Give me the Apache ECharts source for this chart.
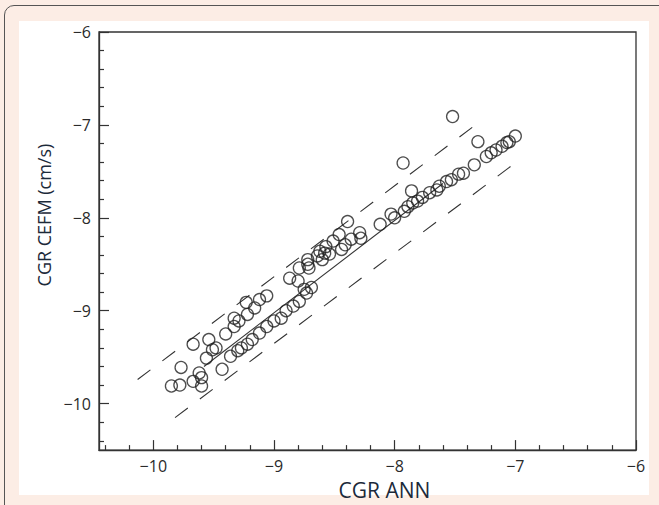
<!DOCTYPE html>
<html>
<head>
<meta charset="utf-8"/>
<title>CGR CEFM vs CGR ANN</title>
<style>
    html, body { margin: 0; padding: 0; width: 659px; height: 505px; overflow: hidden; background: #fcede5; }
    #frame { position: absolute; left: 4px; top: 5px; width: 700px; height: 560px; border: 1.5px solid #555; border-radius: 10px; background: #fcede5; }
    #panel { position: absolute; left: 19px; top: 21px; width: 630px; height: 474px; background: #fff; }
    #chart { position: absolute; left: 0; top: 0; width: 659px; height: 505px; }
</style>
</head>
<body>
<div id="frame"></div>
<div id="panel"></div>
<div id="chart"></div>

<script src="https://cdn.jsdelivr.net/npm/echarts@6/dist/echarts.min.js"></script>
<script>
    // CGR ANN (x) / CGR CEFM (y), log10 cm/s
    var annX = [
        -9.85, -9.78, -9.77, -9.67, -9.67, -9.62, -9.60, -9.60, -9.56, -9.54,
        -9.51, -9.48, -9.43, -9.40, -9.36, -9.30, -9.27, -9.22, -9.18, -9.12,
        -9.06, -9.00, -8.94, -8.90, -8.84, -8.79, -8.73, -8.69, -9.33, -9.33,
        -9.29, -9.23, -9.22, -9.16, -9.12, -9.06, -8.87, -8.80, -8.75, -8.79,
        -8.72, -8.64, -8.58, -8.72, -8.71, -8.62, -8.60, -8.57, -8.54, -8.51,
        -8.46, -8.44, -8.41, -8.36, -8.29, -8.28, -8.39, -8.12, -8.03, -8.00,
        -7.92, -7.89, -7.85, -7.81, -7.77, -7.71, -7.65, -7.63, -7.57, -7.53,
        -7.47, -7.43, -7.34, -7.24, -7.20, -7.16, -7.11, -7.07, -7.05, -7.00,
        -7.93, -7.86, -7.52, -7.31
    ];
    var cefmY = [
        -9.81, -9.80, -9.61, -9.36, -9.76, -9.67, -9.72, -9.81, -9.51, -9.31,
        -9.42, -9.40, -9.63, -9.25, -9.49, -9.43, -9.40, -9.36, -9.31, -9.24,
        -9.17, -9.11, -9.08, -9.00, -8.95, -8.90, -8.81, -8.75, -9.08, -9.17,
        -9.11, -8.91, -9.04, -8.97, -8.88, -8.84, -8.65, -8.68, -8.77, -8.54,
        -8.50, -8.41, -8.38, -8.45, -8.54, -8.36, -8.45, -8.31, -8.39, -8.25,
        -8.18, -8.34, -8.29, -8.23, -8.16, -8.22, -8.04, -8.07, -7.96, -8.00,
        -7.93, -7.88, -7.84, -7.82, -7.78, -7.73, -7.70, -7.66, -7.61, -7.59,
        -7.53, -7.52, -7.43, -7.34, -7.30, -7.27, -7.23, -7.19, -7.18, -7.12,
        -7.41, -7.71, -6.91, -7.18
    ];

    // reference lines (end points)
    var fitLine = [[-9.58, -9.60], [-7.60, -7.63]];
    var upperBand = [[-10.13, -9.74], [-7.30, -6.97]];
    var lowerBand = [[-9.82, -10.15], [-6.98, -7.39]];

    // ticks
    var xMajor = [-10, -9, -8, -7, -6];
    var yMajor = [-10, -9, -8, -7, -6];
    var xMinor = [-10.4, -10.2, -9.8, -9.6, -9.4, -9.2, -8.8, -8.6, -8.4, -8.2,
                  -7.8, -7.6, -7.4, -7.2, -6.8, -6.6, -6.4, -6.2];
    var yMinor = [-10.4, -10.2, -9.8, -9.6, -9.4, -9.2, -8.8, -8.6, -8.4, -8.2,
                  -7.8, -7.6, -7.4, -7.2, -6.8, -6.6, -6.4, -6.2];

    var points = annX.map(function (x, i) { return [x, cefmY[i]]; });

    var font = '"Open Sans", Lato, "Noto Sans", sans-serif';
    var ink = '#2a2a2a';
    function minus(v) { return (v < 0 ? '\u2212' : '') + Math.abs(v); }

    function axisPair(dim, min, max, major, minor, name) {
        var isX = dim === 'x';
        var pos = isX ? 'bottom' : 'left';
        return [
            {
                type: 'value', min: min, max: max, position: pos,
                name: name,
                nameLocation: 'middle',
                nameGap: isX ? 24 : 40,
                nameTextStyle: isX
                    ? { fontFamily: font, fontSize: 21, color: '#1c2a3a', padding: [0, 0, 0, 34] }
                    : { fontFamily: font, fontSize: 18, color: '#1c2a3a', padding: [0, 0, 0, 52] },
                axisLine: { show: true, lineStyle: { color: '#333', width: 1.3 } },
                axisTick: { show: true, inside: true, length: 10, customValues: major,
                    lineStyle: { color: '#333', width: 1.2 } },
                axisLabel: { customValues: major, formatter: minus, margin: 8,
                    fontFamily: font, fontSize: 16, color: ink },
                splitLine: { show: false }
            },
            {
                type: 'value', min: min, max: max, position: pos,
                axisLine: { show: false },
                axisTick: { show: true, inside: true, length: 5, customValues: minor,
                    lineStyle: { color: '#333', width: 1.2 } },
                axisLabel: { show: false },
                splitLine: { show: false }
            }
        ];
    }

    function refLine(data, dashed) {
        return {
            type: 'line', xAxisIndex: 0, yAxisIndex: 0,
            data: data, showSymbol: false, silent: true, z: 1,
            lineStyle: { color: '#333', width: 1.1, type: dashed ? [16, 15] : 'solid' }
        };
    }

    var option = {
        animation: false,
        backgroundColor: 'transparent',
        grid: {
            left: 99, right: 23, top: 32, bottom: 53,
            show: true, backgroundColor: '#fff',
            borderColor: '#333', borderWidth: 1.3
        },
        xAxis: axisPair('x', -10.45, -6, xMajor, xMinor, 'CGR ANN'),
        yAxis: axisPair('y', -10.5, -6, yMajor, yMinor, 'CGR CEFM (cm/s)'),
        series: [
            refLine(upperBand, true),
            refLine(lowerBand, true),
            refLine(fitLine, false),
            {
                type: 'scatter', xAxisIndex: 0, yAxisIndex: 0,
                data: points, symbol: 'circle', symbolSize: 12, z: 3,
                itemStyle: { color: 'rgba(255,255,255,0)', borderColor: '#222', borderWidth: 1.3 }
            }
        ]
    };

    var myChart = echarts.init(document.getElementById('chart'), null, { renderer: 'svg' });
    myChart.setOption(option);
</script>
</body>
</html>
